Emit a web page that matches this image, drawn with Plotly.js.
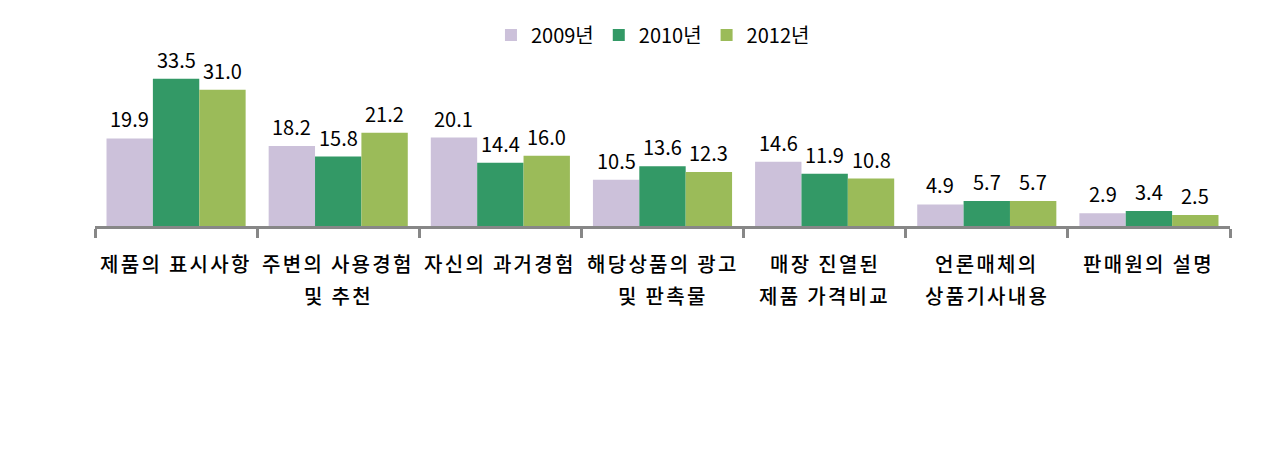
<!DOCTYPE html>
<html><head><meta charset="utf-8">
<script src="https://cdn.plot.ly/plotly-3.0.1.min.js"></script>
<style>
html,body{margin:0;padding:0;background:#fff;}
#chart{width:1285px;height:467px;}
</style>
</head><body>
<div id="chart"></div>
<script>
const categories = [
  "제품의 표시사항",
  "주변의 사용경험 및 추천",
  "자신의 과거경험",
  "해당상품의 광고 및 판촉물",
  "매장 진열된 제품 가격비교",
  "언론매체의 상품기사내용",
  "판매원의 설명"
];
const labelLine1 = ["제품의 표시사항", "주변의 사용경험", "자신의 과거경험", "해당상품의 광고", "매장 진열된", "언론매체의", "판매원의 설명"];
const labelLine2 = ["", "및 추천", "", "및 판촉물", "제품 가격비교", "상품기사내용", ""];
const seriesNames = ["2009년", "2010년", "2012년"];
const values2009 = [19.9, 18.2, 20.1, 10.5, 14.6, 4.9, 2.9];
const values2010 = [33.5, 15.8, 14.4, 13.6, 11.9, 5.7, 3.4];
const values2012 = [31.0, 21.2, 16.0, 12.3, 10.8, 5.7, 2.5];
const colors = ["#CCC1DA", "#339966", "#9BBB59"];

const allSeries = [values2009, values2010, values2012];
const FONT = '"Noto Sans CJK KR", "Noto Sans", sans-serif';
const bargap = 0.142;
const barW = (1 - bargap) / 3;

const traces = allSeries.map((vals, s) => ({
  type: 'bar',
  name: seriesNames[s],
  x: categories,
  y: vals,
  marker: {color: colors[s], line: {width: 0}},
  hoverinfo: 'none'
}));

const annotations = [];
allSeries.forEach((vals, s) => {
  vals.forEach((v, i) => {
    annotations.push({
      x: i + (s - 1) * barW,
      y: v,
      xref: 'x', yref: 'y',
      text: v.toFixed(1),
      showarrow: false,
      yanchor: 'bottom',
      xanchor: 'center',
      yshift: 3,
      font: {family: FONT, size: 20, color: '#000'}
    });
  });
});
const labelFont = {family: FONT, size: 20, color: '#000', weight: 500};
[labelLine1, labelLine2].forEach((lines, li) => {
  lines.forEach((t, i) => {
    if (!t) return;
    annotations.push({
      x: i, y: 0, xref: 'x', yref: 'paper',
      text: '<span style="letter-spacing:2.3px">' + t + '</span>',
      showarrow: false,
      xanchor: 'center', yanchor: 'top',
      yshift: li === 0 ? -21 : -53,
      font: labelFont
    });
  });
});

const layout = {
  width: 1285, height: 467,
  margin: {l: 95, r: 55, t: 60, b: 241},
  paper_bgcolor: '#fff', plot_bgcolor: '#fff',
  barmode: 'group',
  bargap: bargap,
  bargroupgap: 0,
  font: {family: FONT, size: 18, color: '#000'},
  showlegend: true,
  legend: {
    orientation: 'h',
    x: 0.4916, xanchor: 'center',
    y: 1.1506, yanchor: 'middle',
    font: {family: FONT, size: 20, color: '#000'},
    bgcolor: 'rgba(0,0,0,0)'
  },
  xaxis: {
    type: 'category',
    range: [-0.5, 6.5],
    showline: true, linecolor: '#878787', linewidth: 3,
    ticks: 'outside', tickson: 'boundaries', ticklen: 9, tickwidth: 3, tickcolor: '#878787',
    showticklabels: false,
    showgrid: false, zeroline: false, fixedrange: true
  },
  yaxis: {
    range: [0, 37.75],
    visible: false, showgrid: false, zeroline: false, fixedrange: true
  },
  annotations: annotations
};

Plotly.newPlot('chart', traces, layout, {displayModeBar: false, staticPlot: true});
</script>
</body></html>
